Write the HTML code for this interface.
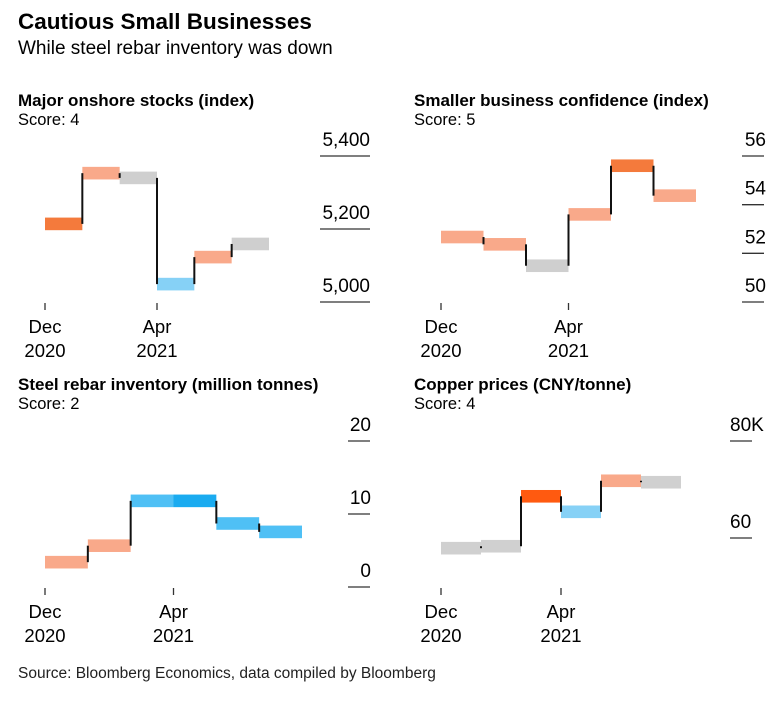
<!DOCTYPE html>
<html><head><meta charset="utf-8"><style>
body{margin:0;background:#fff;font-family:"Liberation Sans",Arial,sans-serif;color:#111}
svg text{font-family:"Liberation Sans",Arial,sans-serif}
</style></head><body>
<svg id="c" width="784" height="697">
<text x="18" y="29" font-size="22.5" font-weight="bold">Cautious Small Businesses</text>
<text x="18" y="54" font-size="19">While steel rebar inventory was down</text>
<text x="18" y="678" font-size="15.5" fill="#222">Source: Bloomberg Economics, data compiled by Bloomberg</text>
</svg>
<script>
const stocksValues=[5214,5353,5340,5049,5123,5159];
const stocksColors=["#f47a3c","#f9a98a","#cfcfcf","#86d1f6","#f9a98a","#cfcfcf"];
const stocksTicks=[5000,5200,5400];
const stocksTickLabels=["5,000","5,200","5,400"];
const confValues=[52.67,52.37,51.49,53.6,55.6,54.37];
const confColors=["#f9a98a","#f9a98a","#cfcfcf","#f9a98a","#f47a3c","#f9a98a"];
const confTicks=[50,52,54,56];
const confTickLabels=["50","52","54","56"];
const rebarValues=[3.4,5.66,11.8,11.8,8.7,7.55];
const rebarColors=["#f9a98a","#f9a98a","#4fc0f5","#1aabf0","#4fc0f5","#4fc0f5"];
const rebarTicks=[0,10,20];
const rebarTickLabels=["0","10","20"];
const copperValues=[57.9,58.3,68.6,65.4,71.8,71.5];
const copperColors=["#d0d0d0","#d0d0d0","#ff5a10","#86d1f6","#f9a98a","#d0d0d0"];
const copperTicks=[60,80];
const copperTickLabels=["60","80K"];
const xLabels=[["Dec","2020"],["Apr","2021"]];
const xLabelIdx=[0,3];

const svg=document.getElementById('c');
const NS="http://www.w3.org/2000/svg";
function mk(tag,attrs,parent){const e=document.createElementNS(NS,tag);for(const k in attrs)e.setAttribute(k,attrs[k]);(parent||svg).appendChild(e);return e;}

function drawChart(o){
  const g=mk('g',{});
  
  
  const t=mk('text',{x:o.tx,y:o.ty,'font-size':17,'font-weight':'bold'},g);t.textContent=o.title;
  
  
  const s=mk('text',{x:o.tx,y:o.ty+19,'font-size':16.5},g);s.textContent=o.score;
  
  
  const yS=v=>o.y0+(v-o.v0)/(o.v1-o.v0)*(o.y1-o.y0);
  const bw=(o.xr-o.xl)/o.values.length;
  const xS=i=>o.xl+i*bw;
  o.ticks.forEach((v,i)=>{
    const y=yS(v);
    const l=mk('line',{x1:o.ax1,x2:o.ax2,y1:y,y2:y,stroke:'#333','stroke-width':1.3},g);
    
    
    const tt=mk('text',{x:o.labX,y:y-10,'font-size':19,'text-anchor':o.anchor},g);tt.textContent=o.tickLabels[i];
    
    
  });
  xLabelIdx.forEach((idx,k)=>{
    const x=xS(idx);
    const tk=mk('line',{x1:x,x2:x,y1:o.xt,y2:o.xt+7,stroke:'#333','stroke-width':1.3},g);
    
    
    const a=mk('text',{x:x,y:o.xt+30,'font-size':18.5,'text-anchor':'middle'},g);a.textContent=xLabels[k][0];
    
    
    const b=mk('text',{x:x,y:o.xt+54,'font-size':18.5,'text-anchor':'middle'},g);b.textContent=xLabels[k][1];
    
    
  });
  o.values.forEach((v,i)=>{
    const y=yS(v);
    const r=mk('rect',{x:xS(i),y:y-6.3,width:bw,height:12.6,fill:o.colors[i]},g);
    
    
  });
  o.values.forEach((v,i)=>{
    if(i===0)return;
    const l=mk('line',{x1:xS(i),x2:xS(i),y1:yS(o.values[i-1]),y2:yS(v),stroke:'#111','stroke-width':2},g);
    
    
  });
}
drawChart({name:'stocks-panel',title:'Major onshore stocks (index)',score:'Score: 4',tx:18,ty:106,values:stocksValues,colors:stocksColors,ticks:stocksTicks,tickLabels:stocksTickLabels,v0:5000,v1:5400,y0:302,y1:156,xl:45,xr:269,ax1:320,ax2:370,labX:370,anchor:'end',xt:303});
drawChart({name:'confidence-panel',title:'Smaller business confidence (index)',score:'Score: 5',tx:414,ty:106,values:confValues,colors:confColors,ticks:confTicks,tickLabels:confTickLabels,v0:50,v1:56,y0:302,y1:156,xl:441,xr:696,ax1:742,ax2:764,labX:766,anchor:'end',xt:303});
drawChart({name:'rebar-panel',title:'Steel rebar inventory (million tonnes)',score:'Score: 2',tx:18,ty:390,values:rebarValues,colors:rebarColors,ticks:rebarTicks,tickLabels:rebarTickLabels,v0:0,v1:20,y0:587,y1:441,xl:45,xr:302,ax1:348,ax2:370,labX:371,anchor:'end',xt:588});
drawChart({name:'copper-panel',title:'Copper prices (CNY/tonne)',score:'Score: 4',tx:414,ty:390,values:copperValues,colors:copperColors,ticks:copperTicks,tickLabels:copperTickLabels,v0:60,v1:80,y0:538,y1:441,xl:441,xr:681,ax1:730,ax2:752,labX:730,anchor:'start',xt:588});
</script>
</body></html>
